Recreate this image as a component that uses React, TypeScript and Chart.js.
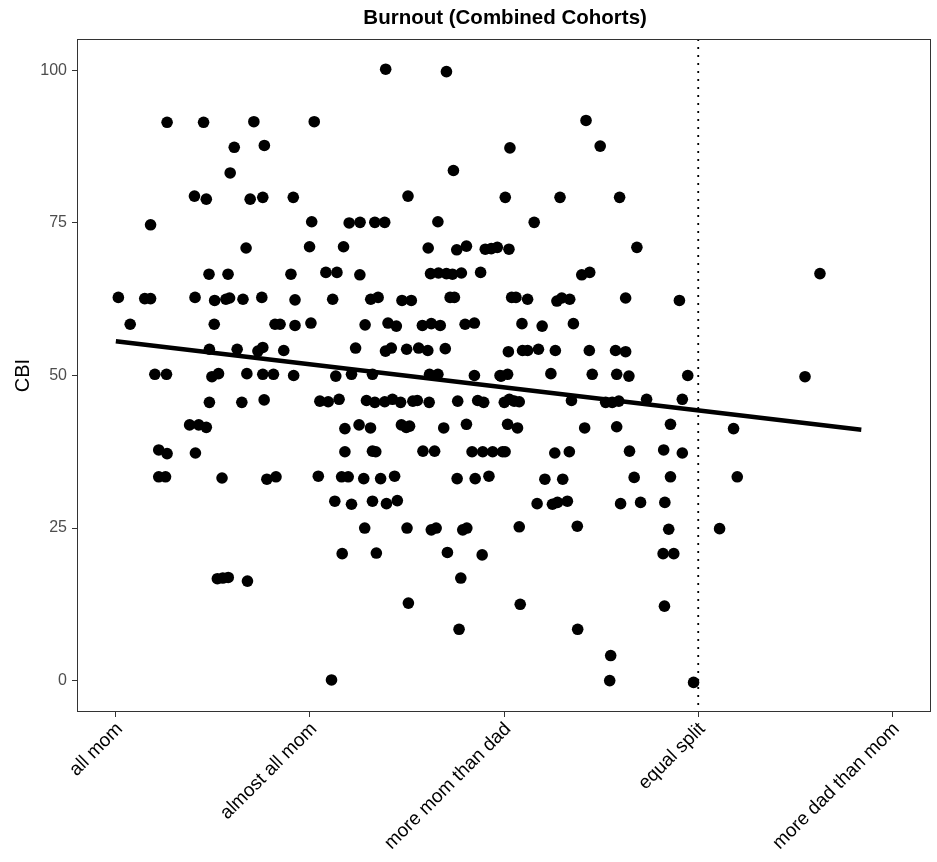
import React, { useEffect, useRef } from "react";
import { Chart, registerables } from "chart.js";

Chart.register(...registerables);

const FONT = '"Liberation Sans", Arial, Helvetica, sans-serif';

// Categories on the x axis (positions 1..5)
const categories = ["all mom", "almost all mom", "more mom than dad", "equal split", "more dad than mom"];
const categoryPositions = [1, 2, 3, 4, 5];
const cbiTicks = [0, 25, 50, 75, 100];
const chartTitle = "Burnout (Combined Cohorts)";
const yTitle = "CBI";
const equalSplitRef = 4;

// Jittered observations, band "all mom" -> "almost all mom" (upper half)
const band1aX = [1.264, 1.452, 1.711, 1.610, 1.765, 1.589, 1.405, 1.466, 1.692, 1.757, 1.914, 1.179, 1.671, 1.480, 1.578, 1.902, 1.013, 1.149, 1.179, 1.408, 1.509, 1.567, 1.586, 1.655, 1.752, 1.923, 1.074, 1.507, 1.820, 1.846, 1.923, 1.482, 1.625, 1.732, 1.757, 1.865, 1.201, 1.261, 1.495, 1.529, 1.675, 1.757, 1.812, 1.916];
const band1aY = [91.5, 91.5, 91.6, 87.4, 87.7, 83.2, 79.4, 78.9, 78.9, 79.2, 79.2, 74.7, 70.9, 66.6, 66.6, 66.6, 62.8, 62.6, 62.6, 62.8, 62.3, 62.5, 62.7, 62.5, 62.8, 62.4, 58.4, 58.4, 58.4, 58.4, 58.2, 54.3, 54.3, 54.0, 54.6, 54.1, 50.2, 50.2, 49.8, 50.3, 50.3, 50.2, 50.2, 50.0];
// lower half
const band1bX = [1.482, 1.649, 1.764, 1.380, 1.427, 1.466, 1.221, 1.264, 1.410, 1.221, 1.256, 1.547, 1.778, 1.825, 1.523, 1.551, 1.579, 1.678];
const band1bY = [45.6, 45.6, 46.0, 41.9, 41.9, 41.5, 37.8, 37.2, 37.3, 33.4, 33.4, 33.2, 33.0, 33.4, 16.7, 16.8, 16.9, 16.3];

// band "almost all mom" -> "more mom than dad"
const band2aX = [2.390, 2.703, 2.022, 2.739, 2.505, 2.009, 2.202, 2.258, 2.334, 2.385, 2.659, 1.998, 2.173, 2.609, 2.756, 2.806, 2.903, 2.934, 2.965, 2.082, 2.139, 2.257, 2.621, 2.662, 2.703, 2.734, 2.780, 2.879, 2.117, 2.313, 2.351, 2.474, 2.522, 2.722, 2.744, 2.005, 2.284, 2.402, 2.445, 2.579, 2.625, 2.671, 2.799, 2.847, 2.235, 2.389, 2.419, 2.498, 2.560, 2.607, 2.697, 2.133, 2.214, 2.322, 2.616, 2.659, 2.847, 2.979];
const band2aY = [100.2, 99.8, 91.6, 83.6, 79.4, 75.2, 75.0, 75.1, 75.1, 75.1, 75.2, 71.1, 71.1, 70.9, 70.6, 71.2, 70.7, 70.8, 71.0, 66.9, 66.9, 66.5, 66.7, 66.8, 66.7, 66.6, 66.8, 66.9, 62.5, 62.5, 62.8, 62.3, 62.3, 62.8, 62.8, 58.6, 58.3, 58.6, 58.1, 58.2, 58.5, 58.2, 58.4, 58.6, 54.5, 54.0, 54.5, 54.3, 54.5, 54.1, 54.4, 49.9, 50.2, 50.2, 50.2, 50.2, 50.0, 50.0];
const band2bX = [2.051, 2.094, 2.150, 2.291, 2.334, 2.385, 2.425, 2.467, 2.530, 2.553, 2.614, 2.761, 2.864, 2.895, 2.180, 2.253, 2.312, 2.471, 2.496, 2.513, 2.689, 2.806, 2.180, 2.322, 2.339, 2.582, 2.642, 2.835, 2.890, 2.941, 2.992, 2.043, 2.163, 2.197, 2.277, 2.364, 2.436, 2.758, 2.851, 2.922, 2.128, 2.214, 2.322, 2.394, 2.450, 2.282, 2.500, 2.625, 2.650, 2.787, 2.808, 2.166, 2.342, 2.708, 2.887, 2.777, 2.507, 2.768, 2.111];
const band2bY = [45.8, 45.7, 46.1, 45.9, 45.6, 45.7, 46.1, 45.6, 45.8, 45.9, 45.6, 45.8, 45.9, 45.6, 41.3, 41.9, 41.4, 41.9, 41.5, 41.7, 41.4, 42.0, 37.5, 37.6, 37.5, 37.6, 37.6, 37.5, 37.5, 37.5, 37.5, 33.5, 33.4, 33.4, 33.1, 33.1, 33.5, 33.1, 33.1, 33.5, 29.4, 28.9, 29.4, 29.0, 29.5, 25.0, 25.0, 24.7, 25.0, 24.7, 25.0, 20.8, 20.9, 21.0, 20.6, 16.8, 12.7, 8.4, 0.1];

// band "more mom than dad" -> "equal split"
const band3aX = [3.422, 3.030, 3.495, 3.006, 3.288, 3.595, 3.155, 3.025, 3.684, 3.400, 3.441, 3.039, 3.061, 3.121, 3.272, 3.297, 3.338, 3.626, 3.903, 3.092, 3.196, 3.357, 3.022, 3.095, 3.121, 3.177, 3.264, 3.439, 3.574, 3.626, 2.984, 3.018, 3.241, 3.454, 3.580, 3.643, 3.946];
const band3aY = [91.8, 87.3, 87.6, 79.2, 79.2, 79.2, 75.1, 70.7, 71.0, 66.5, 66.9, 62.8, 62.8, 62.5, 62.2, 62.7, 62.5, 62.7, 62.3, 58.5, 58.1, 58.5, 53.9, 54.1, 54.1, 54.3, 54.1, 54.1, 54.1, 53.9, 49.9, 50.2, 50.3, 50.2, 50.2, 49.9, 50.0];
const band3bX = [3.001, 3.027, 3.052, 3.078, 3.347, 3.523, 3.557, 3.591, 3.734, 3.918, 3.018, 3.069, 3.415, 3.580, 3.857, 3.005, 3.261, 3.336, 3.646, 3.822, 3.918, 3.210, 3.302, 3.670, 3.857, 3.170, 3.249, 3.275, 3.326, 3.600, 3.703, 3.828, 3.078, 3.377, 3.848, 3.819, 3.874, 3.083, 3.826, 3.379, 3.549, 3.544, 3.976];
const band3bY = [45.6, 46.1, 45.8, 45.7, 45.9, 45.6, 45.6, 45.8, 46.1, 46.1, 42.0, 41.4, 41.4, 41.6, 42.0, 37.5, 37.3, 37.5, 37.6, 37.8, 37.3, 33.0, 33.0, 33.3, 33.4, 29.0, 28.9, 29.2, 29.4, 29.0, 29.2, 29.2, 25.2, 25.3, 24.8, 20.8, 20.8, 12.5, 12.2, 8.4, 4.1, 0.0, -0.3];

// band "equal split" -> "more dad than mom"
const band4X = [4.627, 4.550, 4.182, 4.201, 4.110];
const band4Y = [66.7, 49.8, 41.3, 33.4, 24.9];

// Linear fit endpoints
const fitX = [1, 4.84];
const fitY = [55.6, 41.1];

const bands: [number[], number[]][] = [
  [band1aX, band1aY],
  [band1bX, band1bY],
  [band2aX, band2aY],
  [band2bX, band2bY],
  [band3aX, band3aY],
  [band3bX, band3bY],
  [band4X, band4Y],
];

const decorPlugin = {
  id: "decor",
  afterDatasetsDraw(chart: any) {
    const { ctx, chartArea, scales } = chart;
    const { left, right, top, bottom } = chartArea;
    ctx.save();
    // dotted reference line
    const xv = scales.x.getPixelForValue(equalSplitRef);
    ctx.beginPath();
    ctx.setLineDash([2, 6]);
    ctx.lineWidth = 1.8;
    ctx.strokeStyle = "#000";
    ctx.moveTo(xv, top);
    ctx.lineTo(xv, bottom);
    ctx.stroke();
    ctx.setLineDash([]);
    // panel border
    ctx.lineWidth = 1;
    ctx.strokeStyle = "#333333";
    ctx.strokeRect(Math.round(left) + 0.5, Math.round(top) + 0.5, Math.round(right - left) - 1, Math.round(bottom - top) - 1);
    ctx.restore();
  },
  afterDraw(chart: any) {
    const { ctx, chartArea } = chart;
    ctx.save();
    ctx.font = `bold 20.5px ${FONT}`;
    ctx.fillStyle = "#000";
    ctx.textAlign = "center";
    ctx.textBaseline = "middle";
    ctx.fillText(chartTitle, (chartArea.left + chartArea.right) / 2 + 1, 18);
    ctx.restore();
  },
};

export default function App() {
  const ref = useRef<HTMLCanvasElement>(null);
  useEffect(() => {
    const canvas = ref.current;
    if (!canvas) return;
    const pts = bands.flatMap(([xs, ys]) => xs.map((x, i) => ({ x, y: ys[i] })));
    const fit = fitX.map((x, i) => ({ x, y: fitY[i] }));
    const chart = new Chart(canvas, {
      type: "scatter",
      data: {
        datasets: [
          {
            type: "line",
            data: fit,
            borderColor: "#000",
            backgroundColor: "#000",
            borderWidth: 4.5,
            pointRadius: 0,
            fill: false,
            tension: 0,
          } as any,
          {
            data: pts,
            pointRadius: 5.8,
            pointBackgroundColor: "#000",
            pointBorderWidth: 0,
            backgroundColor: "#000",
            borderColor: "#000",
          },
        ],
      },
      options: {
        responsive: false,
        animation: false,
        devicePixelRatio: 1,
        events: [],
        layout: { padding: { top: 39, right: 5, left: 0, bottom: 0 } },
        plugins: {
          legend: { display: false },
          tooltip: { enabled: false },
          title: { display: false },
        },
        scales: {
          x: {
            type: "linear",
            min: 0.8,
            max: 5.2,
            afterBuildTicks: (s: any) => {
              s.ticks = categoryPositions.map((v) => ({ value: v }));
            },
            afterFit: (s: any) => {
              s.height = 150;
            },
            border: { display: false },
            grid: {
              drawOnChartArea: false,
              drawTicks: true,
              tickLength: 5,
              color: "#333333",
            },
            ticks: {
              autoSkip: false,
              minRotation: 45,
              maxRotation: 45,
              padding: 1,
              labelOffset: 4,
              color: "#000",
              font: { family: FONT, size: 19 },
              callback: (v: any) => {
                const i = categoryPositions.indexOf(Number(v));
                return i >= 0 ? categories[i] : "";
              },
            },
          },
          y: {
            type: "linear",
            min: -5.15,
            max: 105.15,
            afterBuildTicks: (s: any) => {
              s.ticks = cbiTicks.map((v) => ({ value: v }));
            },
            afterFit: (s: any) => {
              s.width = 77;
            },
            border: { display: false },
            grid: {
              drawOnChartArea: false,
              drawTicks: true,
              tickLength: 5,
              color: "#333333",
            },
            ticks: {
              padding: 5,
              color: "#4d4d4d",
              font: { family: FONT, size: 16 },
            },
            title: {
              display: true,
              text: yTitle,
              color: "#000",
              font: { family: FONT, size: 20 },
              padding: { top: 11, bottom: 0 },
            },
          },
        },
      },
      plugins: [decorPlugin],
    });
    return () => chart.destroy();
  }, []);
  return (
    <div style={{ position: "fixed", left: 0, top: 0, width: 937, height: 862, background: "#fff" }}>
      <canvas ref={ref} width={937} height={862} style={{ display: "block" }} />
    </div>
  );
}
